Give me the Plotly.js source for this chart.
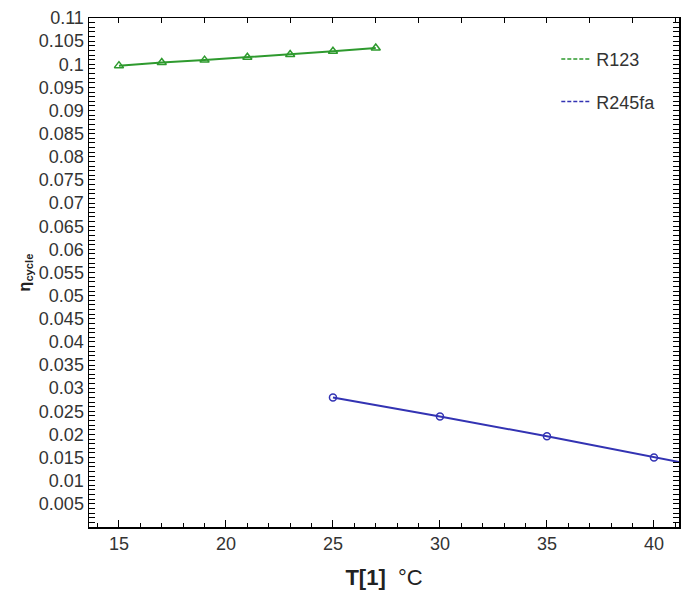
<!DOCTYPE html>
<html>
<head>
<meta charset="utf-8">
<script src="https://cdn.plot.ly/plotly-3.0.1.min.js"></script>
<style>html,body{margin:0;padding:0;background:#fff;}#chart{width:685px;height:604px;}</style>
</head>
<body>
<div id="chart"></div>
<script>
// Data
const r123_T = [15, 17, 19, 21, 23, 25, 27];
const r123_eta = [0.0997, 0.1004, 0.1009, 0.1015, 0.1021, 0.1028, 0.1035];
const r245fa_T = [25, 30, 35, 40, 45];
const r245fa_eta = [0.0280, 0.0239, 0.0196, 0.0150, 0.0106];
const seriesNames = ["R123", "R245fa"];
const yTickVals = [0.005,0.01,0.015,0.02,0.025,0.03,0.035,0.04,0.045,0.05,0.055,0.06,0.065,0.07,0.075,0.08,0.085,0.09,0.095,0.1,0.105,0.11];
const yTickText = ["0.005","0.01","0.015","0.02","0.025","0.03","0.035","0.04","0.045","0.05","0.055","0.06","0.065","0.07","0.075","0.08","0.085","0.09","0.095","0.1","0.105","0.11"];
const xTickVals = [15, 20, 25, 30, 35, 40];

const green = "#2e9a2e";
const blue = "#3333b3";
const font = "Liberation Sans Narrow, Liberation Sans, Arial, sans-serif";

const traces = [
  {x: r123_T, y: r123_eta, mode: "lines+markers", showlegend: false,
   line: {color: green, width: 2},
   marker: {symbol: "triangle-up-open", size: 8, color: green, line: {width: 1.5, color: green}}},
  {x: r245fa_T, y: r245fa_eta, mode: "lines+markers", showlegend: false,
   line: {color: blue, width: 2},
   marker: {symbol: "circle-open", size: 7, color: blue, line: {width: 1.5, color: blue}}},
  {x: [null], y: [null], mode: "lines", name: seriesNames[0], legendgroup: "a",
   line: {color: green, width: 1.5, dash: "4px,2px"}},
  {x: [null], y: [null], mode: "lines", name: seriesNames[1], legendgroup: "b",
   line: {color: blue, width: 1.5, dash: "4px,2px"}},
  {x: [null], y: [null], xaxis: "x2", showlegend: false, mode: "lines"}
];

const layout = {
  width: 685, height: 604,
  margin: {l: 89, r: 6, t: 18, b: 77},
  paper_bgcolor: "#fff", plot_bgcolor: "#fff",
  font: {family: font, color: "#333", size: 16},
  showlegend: true,
  legend: {x: 0.97, y: 0.955, xanchor: "right", yanchor: "top", bgcolor: "rgba(0,0,0,0)",
           font: {family: font, size: 18, color: "#333"}, tracegroupgap: 16, itemwidth: 30},
  xaxis: {
    range: [13.6, 41.17], tickmode: "array", tickvals: xTickVals,
    ticks: "inside", ticklen: 7, tickwidth: 1, tickcolor: "#000",
    minor: {dtick: 1, tick0: 15, ticks: "inside", ticklen: 4, tickcolor: "#000", showgrid: false},
    showline: true, linecolor: "#000", linewidth: 1.5, mirror: false,
    showgrid: false, zeroline: false,
    tickfont: {family: font, size: 18, color: "#333"},
    title: {text: "<b>T[1]</b>  °C", font: {family: font, size: 22, color: "#222"}, standoff: 16}
  },
  xaxis2: {
    overlaying: "x", side: "top", range: [13.6, 41.17], tick0: 15, dtick: 2,
    ticks: "inside", ticklen: 5, tickcolor: "#000", showticklabels: false,
    showline: true, linecolor: "#000", linewidth: 1.5, showgrid: false, zeroline: false
  },
  yaxis: {
    range: [0, 0.11], tickmode: "array", tickvals: yTickVals, ticktext: yTickText,
    ticks: "inside", ticklen: 6, tickwidth: 1, tickcolor: "#000",
    minor: {dtick: 0.001, tick0: 0, ticks: "inside", ticklen: 3, tickcolor: "#000", showgrid: false},
    showline: true, linecolor: "#000", linewidth: 1.5, mirror: "allticks",
    showgrid: false, zeroline: false,
    tickfont: {family: font, size: 18, color: "#333"},
    title: {text: "<b>η<sub>cycle</sub></b>", font: {family: font, size: 16, color: "#222"}, standoff: 4}
  }
};

Plotly.newPlot("chart", traces, layout, {displayModeBar: false, staticPlot: true});
</script>
</body>
</html>
